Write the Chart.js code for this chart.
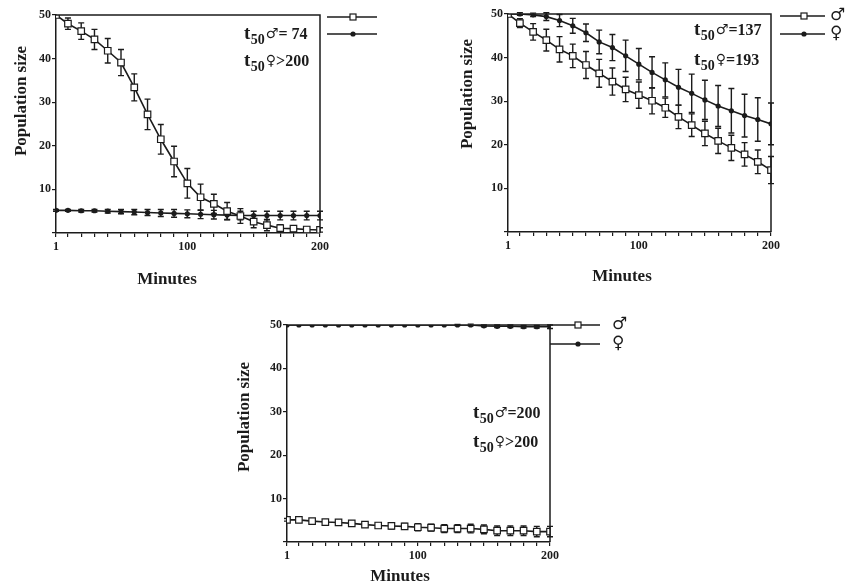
<!DOCTYPE html>
<html>
<head>
<meta charset="utf-8">
<script src="https://cdn.jsdelivr.net/npm/chart.js@4.4.1/dist/chart.umd.min.js"></script>
<style>
  html, body { margin: 0; padding: 0; background: #fff; }
  body { width: 846px; height: 585px; position: relative; overflow: hidden; }
  canvas { position: absolute; }
</style>
</head>
<body>
<canvas id="c1" width="423" height="292" style="left:0px;top:0px;width:423px;height:292px"></canvas>
<canvas id="c2" width="405" height="292" style="left:441px;top:0px;width:405px;height:292px"></canvas>
<canvas id="c3" width="420" height="285" style="left:220px;top:300px;width:420px;height:285px"></canvas>
<script>
// ---------------- DATA ----------------
const minutes = [1, 10, 20, 30, 40, 50, 60, 70, 80, 90, 100, 110, 120, 130, 140, 150, 160, 170, 180, 190, 200];
const xTickValues = [1, 100, 200];
const xTickLabels = ['1', '100', '200'];
const yTickValues = [10, 20, 30, 40, 50];
const seriesLabels = ['\u2642', '\u2640'];
const xTitle = 'Minutes';
const yTitle = 'Population size';

// Panel A (top left)
const maleA      = [50, 48.0, 46.3, 44.4, 41.8, 39.1, 33.4, 27.2, 21.5, 16.4, 11.4, 8.2, 6.7, 5.0, 3.9, 2.6, 1.8, 1.1, 1.0, 0.8, 0.7];
const maleAErr   = [0, 1.3, 1.9, 2.3, 2.8, 3.0, 3.1, 3.5, 3.4, 3.5, 3.4, 3.0, 2.2, 2.0, 1.7, 1.4, 1.3, 0.8, 0.7, 0.6, 0.5];
const femaleA    = [5.2, 5.2, 5.1, 5.1, 5.0, 4.9, 4.8, 4.7, 4.6, 4.5, 4.4, 4.3, 4.2, 4.1, 4.0, 4.0, 4.0, 4.0, 4.0, 4.0, 4.0];
const femaleAErr = [0.2, 0.2, 0.3, 0.3, 0.4, 0.5, 0.6, 0.7, 0.8, 0.9, 0.9, 1.0, 1.0, 1.0, 1.0, 1.0, 1.0, 1.0, 1.0, 1.0, 1.0];
const t50A = ['= 74', '>200'];

// Panel B (top right)
const maleB      = [50, 47.9, 45.9, 44.0, 41.9, 40.4, 38.3, 36.4, 34.5, 32.7, 31.4, 30.1, 28.5, 26.4, 24.5, 22.6, 20.9, 19.3, 17.8, 16.1, 14.2];
const maleBErr   = [0, 1.0, 1.9, 2.5, 2.9, 2.7, 3.1, 3.2, 3.1, 2.8, 3.0, 3.0, 2.2, 2.7, 2.6, 2.8, 2.9, 2.9, 2.7, 2.7, 3.1];
const femaleB    = [50, 50, 49.8, 49.4, 48.5, 47.3, 45.7, 43.6, 42.3, 40.4, 38.5, 36.6, 34.9, 33.2, 31.8, 30.3, 28.9, 27.8, 26.7, 25.8, 24.8];
const femaleBErr = [0, 0.3, 0.4, 0.9, 1.4, 1.7, 2.0, 2.7, 3.0, 3.6, 3.6, 3.6, 3.9, 4.1, 4.4, 4.5, 4.7, 5.1, 4.9, 5.0, 4.8];
const t50B = ['=137', '=193'];

// Panel C (bottom)
const maleC      = [5.1, 5.1, 4.8, 4.6, 4.5, 4.3, 4.0, 3.8, 3.7, 3.6, 3.4, 3.3, 3.1, 3.1, 3.1, 2.9, 2.6, 2.6, 2.6, 2.4, 2.4];
const maleCErr   = [0.3, 0.3, 0.3, 0.4, 0.4, 0.5, 0.6, 0.6, 0.7, 0.7, 0.8, 0.8, 0.9, 0.9, 1.0, 1.0, 1.1, 1.1, 1.1, 1.2, 1.2];
const femaleC    = [50, 50, 50, 50, 50, 50, 50, 50, 50, 50, 50, 50, 50, 50, 50, 49.8, 49.7, 49.7, 49.6, 49.6, 49.6];
const femaleCErr = [0, 0, 0, 0, 0, 0, 0, 0, 0, 0, 0, 0, 0, 0.1, 0.2, 0.2, 0.3, 0.3, 0.3, 0.3, 0.4];
const t50C = ['=200', '>200'];

// ---------------- STYLE ----------------
const INK = '#1b1b1b';
const SERIF = "'Liberation Serif', 'DejaVu Serif', serif";
const SYM = "'DejaVu Sans', sans-serif";

// ---------------- PLUGINS ----------------
const errorBars = {
  id: 'errorBars',
  beforeDatasetsDraw(chart) {
    const { ctx, scales: { x, y } } = chart;
    ctx.save();
    ctx.strokeStyle = INK;
    ctx.lineWidth = 1.4;
    chart.data.datasets.forEach(ds => {
      if (!ds.errors) return;
      ds.data.forEach((p, j) => {
        const e = ds.errors[j];
        if (!e) return;
        const px = x.getPixelForValue(p.x);
        const y1 = y.getPixelForValue(p.y + e);
        const y2 = y.getPixelForValue(p.y - e);
        ctx.beginPath();
        ctx.moveTo(px, y1); ctx.lineTo(px, y2);
        ctx.moveTo(px - 3, y1); ctx.lineTo(px + 3, y1);
        ctx.moveTo(px - 3, y2); ctx.lineTo(px + 3, y2);
        ctx.stroke();
      });
    });
    ctx.restore();
  }
};

const extras = {
  id: 'extras',
  afterDraw(chart, args, o) {
    const { ctx, chartArea: a } = chart;
    ctx.save();
    // frame (top and right sides)
    ctx.strokeStyle = INK;
    ctx.lineWidth = 1.5;
    ctx.beginPath();
    ctx.moveTo(a.left, a.top); ctx.lineTo(a.right, a.top); ctx.lineTo(a.right, a.bottom);
    ctx.stroke();

    // axis titles
    ctx.fillStyle = INK;
    ctx.font = 'bold 17px ' + SERIF;
    ctx.textAlign = 'center';
    ctx.textBaseline = 'middle';
    ctx.fillText(xTitle, o.xt[0], o.xt[1]);
    ctx.save();
    ctx.translate(o.yt[0], o.yt[1]);
    ctx.rotate(-Math.PI / 2);
    ctx.fillText(yTitle, 0, 0);
    ctx.restore();

    // legend: line + marker (+ symbol)
    const L = o.legend;
    [L.yM, L.yF].forEach((ly, i) => {
      ctx.strokeStyle = INK;
      ctx.lineWidth = 1.4;
      ctx.beginPath(); ctx.moveTo(L.x1, ly); ctx.lineTo(L.x2, ly); ctx.stroke();
      if (i === 0) {
        ctx.fillStyle = '#fff';
        ctx.lineWidth = 1.2;
        ctx.fillRect(L.mx - 3, ly - 3, 6, 6);
        ctx.strokeRect(L.mx - 3, ly - 3, 6, 6);
      } else {
        ctx.fillStyle = INK;
        ctx.beginPath(); ctx.arc(L.mx, ly, 2.6, 0, Math.PI * 2); ctx.fill();
      }
      if (L.sx !== null) {
        ctx.fillStyle = INK;
        ctx.font = '17px ' + SYM;
        ctx.textAlign = 'left';
        ctx.textBaseline = 'middle';
        ctx.fillText(seriesLabels[i], L.sx, ly);
      }
    });

    // t50 annotations
    const T = o.t50;
    T.texts.forEach((txt, i) => {
      const by = T.base[i];
      let cx = T.x;
      ctx.fillStyle = INK;
      ctx.textAlign = 'left';
      ctx.textBaseline = 'alphabetic';
      ctx.font = 'bold 19px ' + SERIF;
      ctx.fillText('t', cx, by);
      cx += ctx.measureText('t').width + 0.5;
      ctx.font = 'bold 14px ' + SERIF;
      ctx.fillText('50', cx, by + 5);
      cx += ctx.measureText('50').width + 1;
      ctx.font = '14px ' + SYM;
      ctx.fillText(seriesLabels[i], cx, by - 1);
      cx += ctx.measureText(seriesLabels[i]).width;
      ctx.font = 'bold 16px ' + SERIF;
      ctx.fillText(txt, cx, by);
    });
    ctx.restore();
  }
};

// ---------------- CHART FACTORY ----------------
function pts(vals) { return minutes.map((m, i) => ({ x: m, y: vals[i] })); }

function makeChart(id, cfg) {
  const tickFont = { family: SERIF, weight: 'bold', size: 12 };
  return new Chart(document.getElementById(id), {
    type: 'line',
    data: {
      datasets: [
        { label: seriesLabels[0], data: pts(cfg.male), errors: cfg.maleErr,
          borderColor: INK, borderWidth: 1.6, tension: 0,
          pointStyle: 'rect', pointRadius: 4.6, pointBackgroundColor: '#fff',
          pointBorderColor: INK, pointBorderWidth: 1.2 },
        { label: seriesLabels[1], data: pts(cfg.female), errors: cfg.femaleErr,
          borderColor: INK, borderWidth: 1.6, tension: 0,
          pointStyle: 'circle', pointRadius: 2.6, pointBackgroundColor: INK,
          pointBorderColor: INK, pointBorderWidth: 0 }
      ]
    },
    options: {
      responsive: false,
      animation: false,
      events: [],
      layout: { padding: cfg.pad },
      plugins: {
        legend: { display: false },
        tooltip: { enabled: false },
        extras: cfg.extras
      },
      scales: {
        x: {
          type: 'linear', min: 1, max: 200,
          afterFit: s => { s.height = cfg.xh; },
          afterBuildTicks: s => { s.ticks = minutes.map(v => ({ value: v })); },
          ticks: {
            autoSkip: false, maxRotation: 0, padding: 3, color: INK, font: tickFont,
            callback: v => { const k = xTickValues.indexOf(v); return k >= 0 ? xTickLabels[k] : ''; }
          },
          grid: { display: true, drawOnChartArea: false, drawTicks: true, tickLength: 4, color: INK, lineWidth: 1.2 },
          border: { display: true, color: INK, width: 1.5 }
        },
        y: {
          type: 'linear', min: 0, max: 50,
          afterFit: s => { s.width = cfg.yw; },
          afterBuildTicks: s => { s.ticks = [0].concat(yTickValues).map(v => ({ value: v })); },
          ticks: {
            padding: 1, color: INK, font: tickFont,
            callback: v => (yTickValues.includes(v) ? String(v) : '')
          },
          grid: { display: true, drawOnChartArea: false, drawTicks: true, tickLength: 4, color: INK, lineWidth: 1.2 },
          border: { display: true, color: INK, width: 1.5 }
        }
      }
    },
    plugins: [errorBars, extras]
  });
}

makeChart('c1', {
  male: maleA, maleErr: maleAErr, female: femaleA, femaleErr: femaleAErr,
  pad: { top: 15, right: 103, left: 0, bottom: 0 }, yw: 56, xh: 59,
  extras: {
    xt: [167, 280], yt: [22, 101],
    legend: { x1: 327, x2: 377, mx: 353, yM: 17, yF: 34, sx: null },
    t50: { x: 244, base: [39, 66], texts: t50A }
  }
});

makeChart('c2', {
  male: maleB, maleErr: maleBErr, female: femaleB, femaleErr: femaleBErr,
  pad: { top: 14, right: 75, left: 0, bottom: 0 }, yw: 67, xh: 60,
  extras: {
    xt: [181, 277], yt: [27, 94],
    legend: { x1: 339, x2: 384, mx: 363, yM: 16, yF: 34, sx: 389 },
    t50: { x: 253, base: [35, 65], texts: t50B }
  }
});

makeChart('c3', {
  male: maleC, maleErr: maleCErr, female: femaleC, femaleErr: femaleCErr,
  pad: { top: 25, right: 90, left: 0, bottom: 0 }, yw: 67, xh: 43,
  extras: {
    xt: [180, 277], yt: [25, 117],
    legend: { x1: 330, x2: 380, mx: 358, yM: 25, yF: 44, sx: 392 },
    t50: { x: 253, base: [118, 147], texts: t50C }
  }
});
</script>
</body>
</html>
